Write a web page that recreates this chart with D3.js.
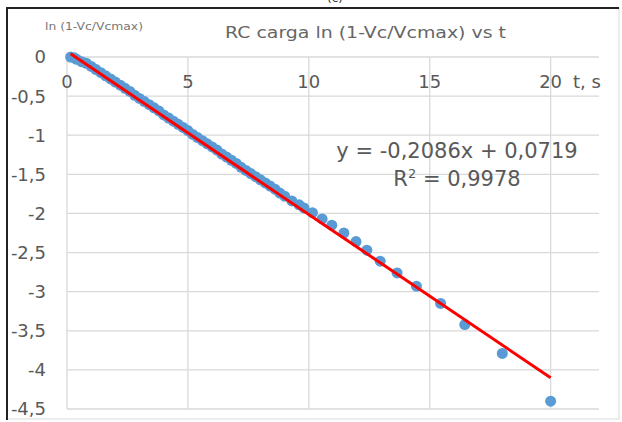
<!DOCTYPE html>
<html>
<head>
<meta charset="utf-8">
<script src="https://cdn.jsdelivr.net/npm/d3@7"></script>
<style>
body { margin: 0; background: #fff; }
text { font-family: "DejaVu Sans", Verdana, sans-serif; fill: #595959; }
</style>
</head>
<body>
<script>
// measured points: t (s) and ln(1 - Vc/Vcmax)
var tValues = [0.15, 0.3, 0.4, 0.6, 0.8, 1.0, 1.2, 1.4, 1.6, 1.8, 2.0, 2.2, 2.4, 2.6, 2.8, 3.0,
	3.2, 3.4, 3.6, 3.8, 4.0, 4.2, 4.4, 4.6, 4.8, 5.0, 5.2, 5.4, 5.6, 5.8, 6.0, 6.2, 6.4, 6.6,
	6.8, 7.0, 7.2, 7.4, 7.6, 7.8, 8.0, 8.2, 8.4, 8.6, 8.8, 9.0, 9.3, 9.6, 9.8, 10.15, 10.55,
	10.95, 11.45, 11.95, 12.4, 12.95, 13.65, 14.45, 15.45, 16.45, 18.0, 20.0];
var lnValues = [0.0, -0.01, -0.03, -0.06, -0.08, -0.12, -0.16, -0.2, -0.24, -0.28, -0.32, -0.36,
	-0.4, -0.44, -0.49, -0.53, -0.57, -0.61, -0.65, -0.69, -0.74, -0.78, -0.82, -0.86, -0.9,
	-0.94, -0.99, -1.03, -1.07, -1.11, -1.15, -1.19, -1.24, -1.28, -1.32, -1.36, -1.41, -1.45,
	-1.49, -1.53, -1.57, -1.61, -1.65, -1.69, -1.74, -1.78, -1.84, -1.89, -1.93, -1.99, -2.07,
	-2.15, -2.25, -2.36, -2.47, -2.61, -2.76, -2.93, -3.15, -3.42, -3.79, -4.4];

// linear trendline as printed on the chart
var slope = -0.2086;
var intercept = 0.0719;
var rSquared = 0.9978;

var xTicks = [0, 5, 10, 15, 20];
var yTicks = [0, -0.5, -1, -1.5, -2, -2.5, -3, -3.5, -4, -4.5];

var title = 'RC carga ln (1-Vc/Vcmax) vs t';
var yLabel = 'ln (1-Vc/Vcmax)';
var xLabel = 't, s';

// ---------------------------- d3 -----------------------------------

var width = 622, height = 422;
var plotL = 67, plotR = 599, plotT = 57, plotB = 409;

var svg = d3.select('body').append('svg').attr('width', width).attr('height', height);

var x = d3.scaleLinear().domain([0, 22]).range([plotL, plotR]);
var y = d3.scaleLinear().domain([0, -4.5]).range([plotT, plotB]);

function fmt(v) {
	return String(v).replace('.', ',');
}

// frame
svg.append('rect').attr('x', 7).attr('y', 8).attr('width', 612).attr('height', 411)
	.attr('fill', 'none').attr('stroke', '#d9d9d9');
svg.append('path').attr('d', 'M7,420V8H619').attr('fill', 'none').attr('stroke', '#222').attr('stroke-width', 2);
svg.append('text').attr('x', 335).attr('y', 2).attr('text-anchor', 'middle')
	.style('font-size', '12px').style('fill', '#333').text('(c)');

// gridlines
svg.append('g').selectAll('line').data(yTicks).enter().append('line')
	.attr('x1', plotL).attr('x2', plotR)
	.attr('y1', function(d) { return y(d); }).attr('y2', function(d) { return y(d); })
	.attr('stroke', '#d9d9d9').attr('stroke-width', 1.3);
svg.append('g').selectAll('line').data(xTicks).enter().append('line')
	.attr('x1', function(d) { return x(d); }).attr('x2', function(d) { return x(d); })
	.attr('y1', plotT).attr('y2', plotB)
	.attr('stroke', '#d9d9d9').attr('stroke-width', 1.3);

// tick labels
svg.append('g').selectAll('text').data(yTicks).enter().append('text')
	.attr('x', 46).attr('y', function(d) { return y(d); })
	.attr('dy', '0.36em').attr('text-anchor', 'end')
	.style('font-size', '18px')
	.text(fmt);
svg.append('g').selectAll('text').data(xTicks).enter().append('text')
	.attr('x', function(d) { return x(d); }).attr('y', 88)
	.attr('text-anchor', 'middle')
	.style('font-size', '18px')
	.text(fmt);
svg.append('text').attr('x', 573).attr('y', 88).style('font-size', '18px').text(xLabel);

// titles
svg.append('text').attr('x', 225).attr('y', 38)
	.attr('textLength', 281).attr('lengthAdjust', 'spacingAndGlyphs')
	.style('font-size', '16px').style('fill', '#666').text(title);
svg.append('text').attr('x', 45).attr('y', 30)
	.attr('textLength', 98).attr('lengthAdjust', 'spacingAndGlyphs')
	.style('font-size', '10px').style('fill', '#777').text(yLabel);

// points
var points = tValues.map(function(t, i) { return { t: t, v: lnValues[i] }; });
svg.append('g').selectAll('circle').data(points).enter().append('circle')
	.attr('cx', function(d) { return x(d.t); })
	.attr('cy', function(d) { return y(d.v); })
	.attr('r', 5.5)
	.style('fill', '#5b9bd5');

// trendline over the data range
var tRange = d3.extent(tValues);
svg.append('line')
	.attr('x1', x(tRange[0])).attr('y1', y(slope * tRange[0] + intercept))
	.attr('x2', x(tRange[1])).attr('y2', y(slope * tRange[1] + intercept))
	.attr('stroke', '#ff0000').attr('stroke-width', 3);

// equation
svg.append('text').attr('x', 457).attr('y', 158).attr('text-anchor', 'middle')
	.style('font-size', '21px')
	.text('y = ' + fmt(slope) + 'x + ' + fmt(intercept));
var r2 = svg.append('text').attr('x', 457).attr('y', 186).attr('text-anchor', 'middle')
	.style('font-size', '21px');
r2.append('tspan').text('R');
r2.append('tspan').attr('dy', -8).style('font-size', '13px').text('2');
r2.append('tspan').attr('dy', 8).text(' = ' + fmt(rSquared));
</script>
</body>
</html>
